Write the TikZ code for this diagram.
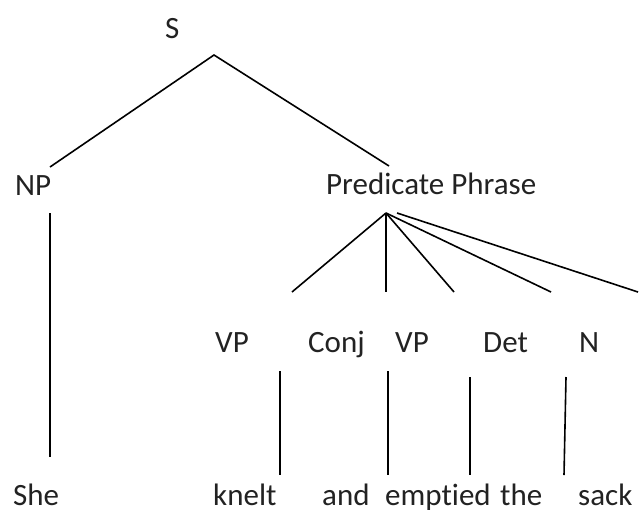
\documentclass[tikz,border=0pt]{standalone}
\usepackage{fontspec}
\setmainfont{Carlito}[Ligatures=NoCommon]
\definecolor{txt}{HTML}{222222}
\begin{document}
\begin{tikzpicture}[x=1pt,y=-1pt,
  lbl/.style={anchor=base west,inner sep=0pt,font=\fontsize{31}{36}\selectfont,text=txt},
  edge/.style={draw=black,line width=1.6pt}]
\useasboundingbox (0,0) rectangle (644,512);
% labels
\node[lbl] (S) at (165,38) {S};
\node[lbl] (NP) at (15,195) {NP};
\node[lbl] (PP) at (326,194) {Predicate Phrase};
\node[lbl] (VPa) at (215,352) {VP};
\node[lbl] (Conj) at (308,352) {Conj};
\node[lbl] (VPb) at (395,352) {VP};
\node[lbl] (Det) at (483,352) {Det};
\node[lbl] (N) at (579,352) {N};
\node[lbl] (She) at (13,505) {She};
\node[lbl] (knelt) at (213,505) {knelt};
\node[lbl] (and) at (322,505) {and};
\node[lbl] (emptied) at (385,505) {emptied};
\node[lbl] (the) at (500,505) {the};
\node[lbl] (sack) at (578,505) {sack};
% connector end points
\coordinate (s0) at (214,55);
\coordinate (np0) at (50,167);
\coordinate (pp0) at (389,166);
\coordinate (np1) at (50,213);
\coordinate (np2) at (50,457);
\coordinate (pa) at (386,213);
\coordinate (pb) at (397,213);
\coordinate (f1) at (292,292);
\coordinate (f2) at (386,292);
\coordinate (f3) at (454,292);
\coordinate (f4) at (551,292);
\coordinate (f5) at (638,292);
\coordinate (k1) at (280,371);
\coordinate (k2) at (280,475);
\coordinate (a1) at (388,371);
\coordinate (a2) at (388,475);
\coordinate (d1) at (470,377);
\coordinate (d2) at (470,475);
\coordinate (n1) at (566,377);
\coordinate (n2) at (564,475);
% connectors
\draw[edge] (np0) -- (s0) -- (pp0);
\draw[edge] (np1) -- (np2);
\draw[edge] (pa) -- (f1);
\draw[edge] (pa) -- (f2);
\draw[edge] (pa) -- (f3);
\draw[edge] (pa) -- (f4);
\draw[edge] (pb) -- (f5);
\draw[edge] (k1) -- (k2);
\draw[edge] (a1) -- (a2);
\draw[edge] (d1) -- (d2);
\draw[edge] (n1) -- (n2);
\end{tikzpicture}
\end{document}
